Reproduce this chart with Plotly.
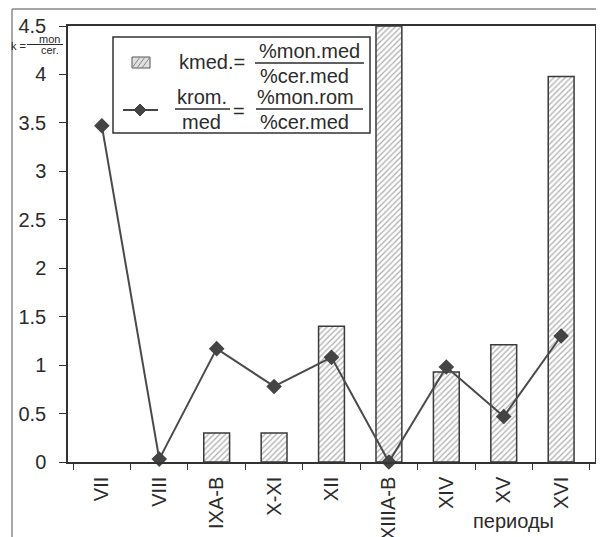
import plotly.graph_objects as go

# ---- data ----
periods = ["VII", "VIII", "IXA-B", "X-XI", "XII", "XIIIA-B", "XIV", "XV", "XVI"]
kmed = [None, None, 0.30, 0.30, 1.40, 4.5, 0.93, 1.21, 3.98]
krom = [3.47, 0.03, 1.17, 0.78, 1.08, 0.0, 0.98, 0.47, 1.30]
y_ticks = [0, 0.5, 1, 1.5, 2, 2.5, 3, 3.5, 4, 4.5]
y_tick_text = ["0", "0.5", "1", "1.5", "2", "2.5", "3", "3.5", "4", "4.5"]

# page body has an 8px margin, so the figure is drawn from (8, 8) in the window
PAGE_OFF = 8
W, H = 604 - PAGE_OFF, 537 - PAGE_OFF
# plot area in window pixels: x 68..595, y 26..462
PX0, PX1, PY0, PY1 = 68, 595, 26, 462
ML, MT = PX0 - PAGE_OFF, PY0 - PAGE_OFF
MR, MB = W - (PX1 - PAGE_OFF), H - (PY1 - PAGE_OFF)
PW = PX1 - PX0
PH = PY1 - PY0
FONT = "Arial, Liberation Sans, sans-serif"
INK = "#2b2b2b"


def fx(px):
    return (px - PX0) / PW


def fy(py):
    return (PY1 - py) / PH


fig = go.Figure()
fig.add_trace(go.Bar(
    x=periods, y=kmed, name="kmed", width=0.45,
    marker=dict(color="white", line=dict(color="#3a3a3a", width=1.5),
                pattern=dict(shape="/", fgcolor="#5a5a5a", bgcolor="white",
                             size=4, solidity=0.3)),
    showlegend=False,
))
fig.add_trace(go.Scatter(
    x=periods, y=krom, name="krom", mode="lines+markers",
    line=dict(color="#4a4a4a", width=2),
    marker=dict(symbol="diamond", size=12, color="#444444"),
    cliponaxis=False, showlegend=False,
))

shapes = []
annots = []

# outer frame (image border)
shapes.append(dict(type="line", xref="paper", yref="paper",
                   x0=fx(12), x1=fx(12), y0=fy(9), y1=fy(540),
                   line=dict(color="#8a8a8a", width=1.5)))
shapes.append(dict(type="line", xref="paper", yref="paper",
                   x0=fx(12), x1=fx(606), y0=fy(9), y1=fy(9),
                   line=dict(color="#8a8a8a", width=1.5)))

# legend box
shapes.append(dict(type="rect", xref="paper", yref="paper",
                   x0=fx(113), x1=fx(370), y0=fy(37), y1=fy(133),
                   fillcolor="white", line=dict(color="#333333", width=1.5), layer="above"))
# hatched icon
shapes.append(dict(type="rect", xref="paper", yref="paper",
                   x0=fx(132), x1=fx(150), y0=fy(57), y1=fy(68),
                   fillcolor="#e0e0e0", line=dict(color="#555555", width=1), layer="above"))
hatch = ""
for off in [4, 9, 14]:
    hatch += f"M{fx(132 + off - 4)},{fy(68)} L{fx(132 + off + 4)},{fy(57)} "
shapes.append(dict(type="path", xref="paper", yref="paper", path=hatch,
                   line=dict(color="#888888", width=1), layer="above"))
# line icon
shapes.append(dict(type="line", xref="paper", yref="paper",
                   x0=fx(123), x1=fx(158), y0=fy(110), y1=fy(110),
                   line=dict(color="#444444", width=2), layer="above"))
d = 6
shapes.append(dict(type="path", xref="paper", yref="paper",
                   path=f"M{fx(140)},{fy(110 - d)} L{fx(140 + d)},{fy(110)} L{fx(140)},{fy(110 + d)} L{fx(140 - d)},{fy(110)} Z",
                   fillcolor="#444444", line=dict(color="#444444", width=1), layer="above"))
# fraction bars
for (x0, x1, y) in [(255, 364, 63), (175, 230, 109), (256, 363, 109)]:
    shapes.append(dict(type="line", xref="paper", yref="paper",
                       x0=fx(x0), x1=fx(x1), y0=fy(y), y1=fy(y),
                       line=dict(color=INK, width=1.5), layer="above"))


def txt(s, x, y, size=20):
    annots.append(dict(text=s, x=fx(x), y=fy(y), xref="paper", yref="paper",
                       xanchor="center", yanchor="middle", showarrow=False,
                       font=dict(family=FONT, size=size, color=INK)))


txt("kmed.=", 212, 62)
txt("%mon.med", 309, 51)
txt("%cer.med", 304, 76)
txt("krom.", 202, 97)
txt("med", 201, 122)
txt("=", 239, 111)
txt("%mon.rom", 305, 97)
txt("%cer.med", 304, 122)

# y-axis label k = mon/cer.
txt("k =", 18, 46, size=11)
txt("mon", 49, 39, size=11)
txt("cer.", 50, 50, size=11)
shapes.append(dict(type="line", xref="paper", yref="paper",
                   x0=fx(27), x1=fx(63), y0=fy(44.5), y1=fy(44.5),
                   line=dict(color=INK, width=1)))

# x-axis title
txt("периоды", 513, 521, size=20)

fig.update_layout(
    width=W, height=H,
    margin=dict(l=ML, r=MR, t=MT, b=MB),
    paper_bgcolor="white", plot_bgcolor="white",
    font=dict(family=FONT, size=20, color=INK),
    shapes=shapes, annotations=annots,
    bargap=0.5,
    xaxis=dict(
        type="category", categoryorder="array", categoryarray=periods,
        showline=True, linecolor="#333333", linewidth=1.5, mirror=True,
        ticks="outside", tickson="boundaries", ticklen=6, tickcolor="#333333",
        tickangle=-90, showgrid=False, ticklabelstandoff=5, automargin=False,
        tickfont=dict(family=FONT, size=20, color=INK),
    ),
    yaxis=dict(
        range=[0, 4.5], tickvals=y_ticks, ticktext=y_tick_text,
        showline=True, linecolor="#333333", linewidth=1.5, mirror=True,
        ticks="outside", ticklen=7, tickcolor="#333333", automargin=False,
        showgrid=False, zeroline=False, ticklabelstandoff=9,
        tickfont=dict(family=FONT, size=20, color=INK),
    ),
)

fig.write_html("out.html")
